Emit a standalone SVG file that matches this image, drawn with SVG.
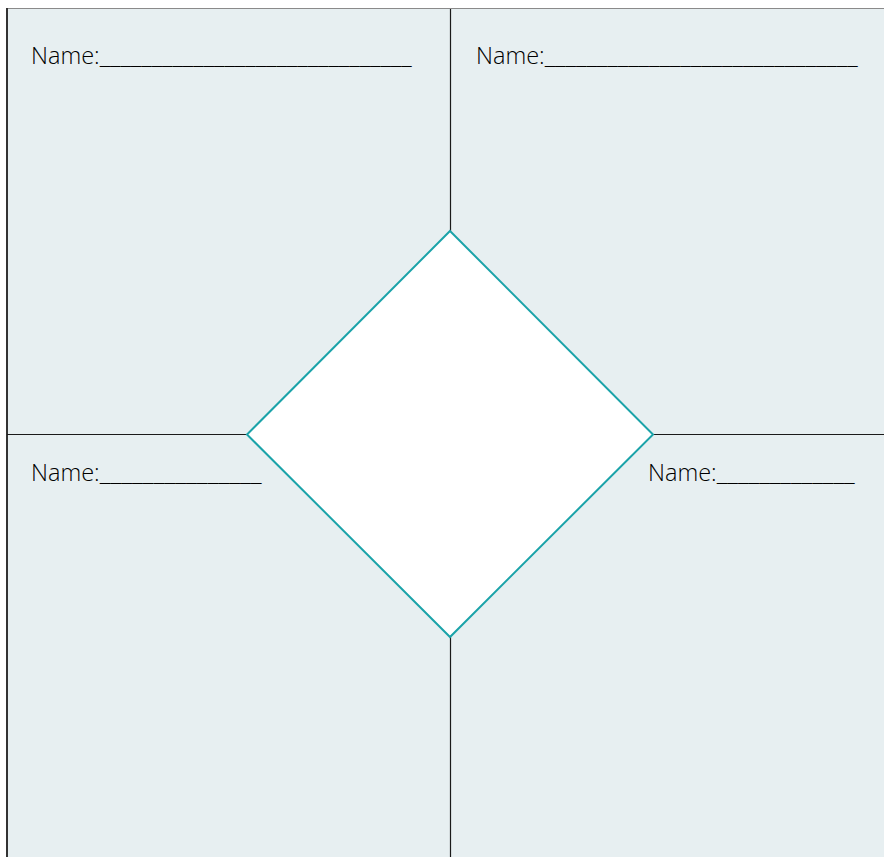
<svg xmlns="http://www.w3.org/2000/svg" width="884" height="857" viewBox="0 0 884 857">
<style>
.lbl{font-family:"Open Sans","Liberation Sans",sans-serif;font-size:23.5px;font-weight:300;fill:#000000}
.div{stroke:#1a1a1a;stroke-width:1.2;fill:none}
</style>
<rect x="0" y="0" width="884" height="857" fill="#ffffff"/>
<g id="background">
<rect x="7" y="9" width="877" height="848" fill="#e7eff1"/>
<line x1="7" y1="8.5" x2="884" y2="8.5" stroke="#8a8a8a" stroke-width="1"/>
<line x1="7" y1="8" x2="7" y2="857" stroke="#333" stroke-width="2"/>
</g>
<g id="connectors">
<line class="div" x1="450.5" y1="9" x2="450.5" y2="231"/>
<line class="div" x1="450.5" y1="637" x2="450.5" y2="857"/>
<line class="div" x1="7" y1="434.5" x2="247" y2="434.5"/>
<line class="div" x1="653" y1="434.5" x2="884" y2="434.5"/>
</g>
<g id="center">
<polygon points="450,231 653,434.5 450,637 247,434.5" fill="#ffffff" stroke="#1ba3a9" stroke-width="2"/>
</g>
<g id="name-top-left">
<text class="lbl" x="31" y="64">Name:<tspan textLength="312" lengthAdjust="spacingAndGlyphs">______________________________</tspan></text>
</g>
<g id="name-top-right">
<text class="lbl" x="476" y="64">Name:<tspan textLength="313" lengthAdjust="spacingAndGlyphs">______________________________</tspan></text>
</g>
<g id="name-bottom-left">
<text class="lbl" x="31" y="481">Name:<tspan textLength="162" lengthAdjust="spacingAndGlyphs">_______________</tspan></text>
</g>
<g id="name-bottom-right">
<text class="lbl" x="648" y="481">Name:<tspan textLength="138" lengthAdjust="spacingAndGlyphs">_____________</tspan></text>
</g>
</svg>
